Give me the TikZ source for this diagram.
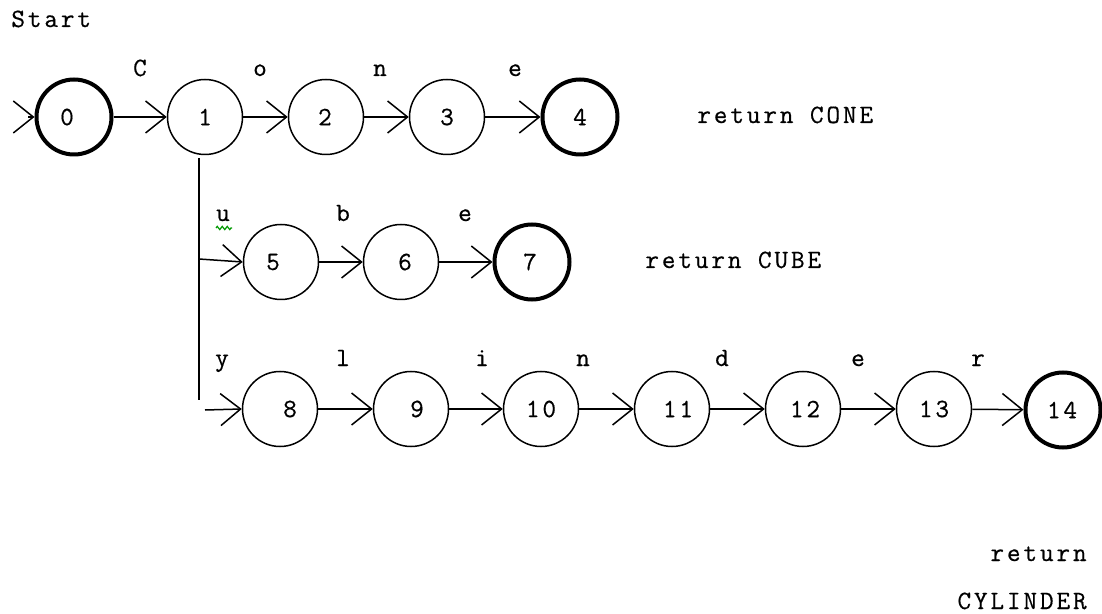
\documentclass[tikz,border=0pt]{standalone}
\usepackage{fontspec}
\newfontfamily\courfont{Latin Modern Mono}[LetterSpace=11,FakeBold=0.5]
\usetikzlibrary{arrows.meta,decorations.pathmorphing}
\begin{document}
\begin{tikzpicture}[x=0.5pt,y=-0.5pt,
  font=\courfont\fontsize{13.2pt}{15pt}\selectfont,
  st/.style={circle,draw,line width=0.75pt,minimum size=37.5pt,inner sep=0pt},
  acc/.style={st,line width=2pt},
  lbl/.style={anchor=base,inner sep=0pt},
  tr/.style={draw,line width=0.75pt,-{Straight Barb[length=10pt,width=16pt,line width=0.75pt]}}
]
\fill[white] (0,0) rectangle (1102,614);
\useasboundingbox (0,0) rectangle (1102,614);
% states
\node[acc] (s0) at (74,117) {};
\node[st] (s1) at (205,117) {};
\node[st] (s2) at (326,117) {};
\node[st] (s3) at (447,117) {};
\node[acc] (s4) at (580,117) {};
\node[st] (s5) at (281,262) {};
\node[st] (s6) at (401,262) {};
\node[acc] (s7) at (532,262) {};
\node[st] (s8) at (280,409) {};
\node[st] (s9) at (411,409) {};
\node[st] (s10) at (541,409) {};
\node[st] (s11) at (672,409) {};
\node[st] (s12) at (803,409) {};
\node[st] (s13) at (934,409) {};
\node[acc] (s14) at (1063,410) {};
% state numbers
\node (n0) at (67,117) {0};
\node (n1) at (205,117) {1};
\node (n2) at (325,117) {2};
\node (n3) at (447,117) {3};
\node (n4) at (580,117) {4};
\node (n5) at (273,262) {5};
\node (n6) at (405,262) {6};
\node (n7) at (530,262) {7};
\node (n8) at (290,409) {8};
\node (n9) at (417,409) {9};
\node (n10) at (541,409) {10};
\node (n11) at (678,409) {11};
\node (n12) at (805,409) {12};
\node (n13) at (934,409) {13};
\node (n14) at (1062,410) {14};
% coordinates
\coordinate (startin) at (28,117);
\coordinate (vtop) at (199,158);
\coordinate (vbot) at (199,400);
\coordinate (br5) at (199,259);
\coordinate (br8) at (205,410);
% transitions
\draw[tr] (startin) -- (s0.west);
\draw[tr] (s0) -- (s1);
\draw[tr] (s1) -- (s2);
\draw[tr] (s2) -- (s3);
\draw[tr] (s3) -- (s4);
\draw[line width=0.75pt] (vtop) -- (vbot);
\draw[tr] (br5) -- (s5.west);
\draw[tr] (s5) -- (s6);
\draw[tr] (s6) -- (s7);
\draw[tr] (br8) -- (s8.west);
\draw[tr] (s8) -- (s9);
\draw[tr] (s9) -- (s10);
\draw[tr] (s10) -- (s11);
\draw[tr] (s11) -- (s12);
\draw[tr] (s12) -- (s13);
\draw[tr] (s13) -- (s14);
% edge labels
\node[lbl] (lC) at (140,76) {C};
\node[lbl] (lo) at (260,76) {o};
\node[lbl] (ln1) at (380,76) {n};
\node[lbl] (le1) at (515,76) {e};
\node[lbl] (lu) at (223,221) {u};
\node[lbl] (lb) at (343,221) {b};
\node[lbl] (le2) at (465,221) {e};
\node[lbl] (ly) at (222,366) {y};
\node[lbl] (ll) at (343,366) {l};
\node[lbl] (li) at (482,366) {i};
\node[lbl] (ln2) at (583,366) {n};
\node[lbl] (ld) at (722,366) {d};
\node[lbl] (le3) at (858,366) {e};
\node[lbl] (lr) at (978,366) {r};
\draw[green!60!black,line width=0.6pt,decorate,decoration={zigzag,segment length=2.5pt,amplitude=0.8pt}] (216,228) -- (232,228);
% other texts
\node[lbl,anchor=base west] (tstart) at (11,27) {Start};
\node[lbl,anchor=base west] (tcone) at (697,123) {return CONE};
\node[lbl,anchor=base west] (tcube) at (645,268) {return CUBE};
\node[lbl,anchor=base east] (tret) at (1087,561) {return};
\node[lbl,anchor=base east] (tcyl) at (1087,609) {CYLINDER};
\end{tikzpicture}
\end{document}
